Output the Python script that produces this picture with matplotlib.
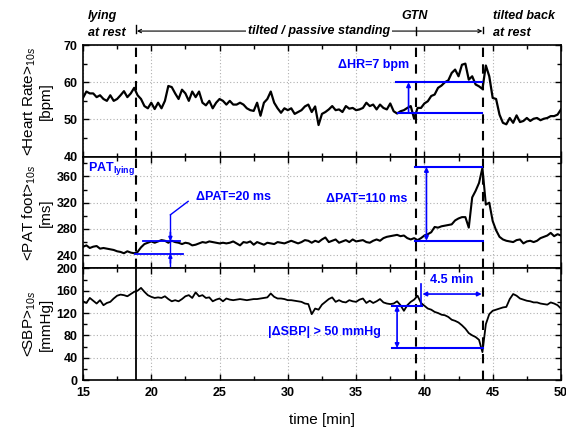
import numpy as np
import matplotlib
matplotlib.use("Agg")
import matplotlib.pyplot as plt
from matplotlib.ticker import MultipleLocator, FixedLocator

plt.rcParams['font.family'] = ['Liberation Sans', 'DejaVu Sans']
plt.rcParams['mathtext.fontset'] = 'custom'
plt.rcParams['mathtext.rm'] = 'Liberation Sans'
plt.rcParams['mathtext.bf'] = 'Liberation Sans:bold'
plt.rcParams['mathtext.it'] = 'Liberation Sans:italic'

# ---------------- data ----------------
time_min = np.arange(15.0, 50.001, 0.25)   # sampling grid [min]

heart_rate = [
    55.8, 57.5, 57.0, 57.0, 56.0, 56.5, 55.5, 55.0, 56.5, 55.0,
    55.5, 56.5, 57.6, 56.0, 57.0, 58.5, 56.5, 55.5, 53.6, 53.0,
    54.5, 52.8, 54.5, 53.0, 55.0, 59.0, 58.7, 57.0, 55.5, 58.0,
    57.0, 55.0, 57.5, 56.0, 57.5, 54.5, 53.8, 55.0, 53.0, 54.5,
    55.5, 55.0, 54.0, 55.0, 54.0, 54.0, 54.5, 54.0, 53.0, 52.5,
    52.3, 54.5, 51.0, 54.5, 55.5, 57.5, 54.5, 53.0, 51.8, 53.0,
    52.5, 53.0, 51.5, 52.0, 52.5, 53.5, 54.0, 52.0, 53.5, 48.5,
    51.5, 52.0,
    52.7, 53.6, 52.5, 52.7, 52.0, 53.6, 52.9, 53.1, 52.5, 52.7,
    53.1, 54.5, 53.6, 54.0, 52.7, 54.0, 53.1, 52.7, 54.3, 52.2,
    51.6, 52.2, 52.5, 53.1, 53.6, 50.2, 53.1, 53.1, 54.3, 54.9,
    56.3, 56.7, 58.5, 59.1, 60.0, 60.5, 62.5, 63.4, 61.6, 64.7,
    65.0, 60.7, 61.6, 59.4, 58.9, 58.2, 64.5, 61.6, 55.8, 55.5,
    51.3, 49.1, 48.7, 50.4, 49.1, 51.1, 49.3, 49.6, 50.4, 49.6,
    50.2, 50.4, 49.8, 50.2, 50.4, 50.9, 50.9, 51.3, 52.7]

pat_foot = [
    252.8, 255, 251, 253, 254, 250, 251, 250, 249, 248,
    246, 245, 243, 246, 244, 243, 245, 252, 257, 259,
    261, 259, 261, 263, 262, 259, 262, 260, 259, 257,
    259, 258, 255, 256, 258, 260, 259, 261, 260, 259,
    258, 259, 258, 259, 261, 258, 255, 260, 259, 261,
    256, 260, 258, 256, 259, 258, 257, 260, 259, 258,
    260, 262, 260, 258, 260, 263, 262, 259, 262, 260,
    264, 267,
    260, 262, 264, 259, 261, 263, 260, 264, 261, 262,
    263, 260, 259, 262, 264, 262, 266, 268, 269, 270,
    271, 269, 270, 266, 264, 266, 263, 266, 270, 272,
    275, 283, 282, 284, 285, 286, 287, 293, 296, 298,
    298, 282, 328, 338, 350, 373, 317, 320, 292, 278,
    268, 264, 262, 261, 260, 263, 264, 258, 261, 262,
    260, 262, 266, 268, 270, 274, 269, 272, 270]

sbp = [
    141, 138, 147, 142, 137, 143, 134, 138, 140, 146,
    151, 153, 152, 150, 154, 158, 160, 165, 158, 152,
    149, 147, 148, 147, 150, 145, 141, 143, 141, 145,
    150, 152, 147, 157, 150, 152, 147, 148, 141, 144,
    146, 141, 146, 144, 143, 144, 145, 144, 143, 144,
    145, 145, 146, 147, 148, 155, 149, 146, 146, 145,
    143, 143, 142, 141, 140, 137, 136, 118, 128, 126,
    135, 140,
    145, 148, 140, 143, 140, 139, 143, 141, 140, 144,
    146, 138, 142, 138, 141, 145, 139, 137, 136, 137,
    141, 134, 124, 134, 140, 144, 151, 138, 133, 128,
    126, 122, 120, 117, 116, 113, 108, 106, 103, 98,
    92, 84, 80, 77, 72, 50, 100, 118, 124, 126,
    128, 130, 131, 145, 154, 151, 146, 144, 142, 141,
    139, 139, 137, 136, 135, 139, 137, 134, 128]

t_tilt = 18.9      # tilted
t_gtn = 39.4       # GTN
t_back = 44.3      # tilted back

BLUE = '#0000ff'
GRID = '#b0b0b0'

# ---------------- figure ----------------
fig = plt.figure(figsize=(5.66, 4.28), dpi=100)
L, W = 0.1466, 0.8445
H = 0.2609
ax_hr = fig.add_axes([L, 0.1121 + 2 * H, W, H])
ax_pat = fig.add_axes([L, 0.1121 + H, W, H])
ax_sbp = fig.add_axes([L, 0.1121, W, H])

def style(ax, ylim, ymaj, ymin, ylabel, bottom_labels=False):
    ax.set_xlim(15, 50)
    ax.set_ylim(*ylim)
    ax.xaxis.set_major_locator(MultipleLocator(5))
    ax.xaxis.set_minor_locator(MultipleLocator(2.5))
    ax.yaxis.set_major_locator(FixedLocator(ymaj))
    ax.yaxis.set_minor_locator(FixedLocator(ymin))
    ax.tick_params(which='both', direction='in', top=True, right=True, width=1.0)
    ax.tick_params(which='major', length=4)
    ax.tick_params(which='minor', length=3)
    ax.tick_params(axis='x', labelbottom=bottom_labels, labelsize=9, pad=5)
    ax.tick_params(axis='y', labelsize=9, pad=4)
    for s in ax.spines.values():
        s.set_linewidth(1.2)
    ax.grid(True, which='major', linestyle=(0, (1, 2)), color=GRID, linewidth=0.8)
    ax.set_ylabel(ylabel, fontsize=11, linespacing=1.15)
    ax.yaxis.set_label_coords(-0.062, 0.5)

style(ax_hr, (40, 70), [40, 50, 60, 70], [45, 55, 65],
      "<Heart Rate>$_{10s}$\n[bpm]")
style(ax_pat, (220, 390), [240, 280, 320, 360], [260, 300, 340, 380],
      "<PAT foot>$_{10s}$\n[ms]")
style(ax_sbp, (0, 200), [0, 40, 80, 120, 160, 200], [20, 60, 100, 140, 180],
      "<SBP>$_{10s}$\n[mmHg]", bottom_labels=True)
for ax in (ax_hr, ax_pat, ax_sbp):
    for lab in ax.get_xticklabels() + ax.get_yticklabels():
        lab.set_fontweight('bold')
ax_sbp.set_xlabel("time [min]", fontsize=11, labelpad=10)

# traces
ax_hr.plot(time_min, heart_rate, color='black', lw=1.6, zorder=3)
ax_pat.plot(time_min, pat_foot, color='black', lw=1.5, zorder=3)
ax_sbp.plot(time_min, sbp, color='black', lw=1.3, zorder=3)

# event lines
dash = (0, (4.5, 3.5))
for ax in (ax_hr, ax_pat):
    for tt in (t_tilt, t_gtn, t_back):
        ax.axvline(tt, color='black', lw=1.5, linestyle=dash, zorder=2)
ax_sbp.axvline(t_tilt, color='black', lw=1.3, zorder=2)
for tt in (t_gtn, t_back):
    ax_sbp.axvline(tt, color='black', lw=1.5, linestyle=dash, zorder=2)

# ---------------- top annotations ----------------
trx = ax_hr.get_xaxis_transform()
ita = dict(fontsize=9, fontweight='bold', fontstyle='italic', transform=trx,
           clip_on=False)
ax_hr.text(15.37, 1.26, "lying", ha='left', va='center', **ita)
ax_hr.text(15.37, 1.11, "at rest", ha='left', va='center', **ita)
ax_hr.text(39.3, 1.26, "GTN", ha='center', va='center', **ita)
ax_hr.text(45.0, 1.26, "tilted back", ha='left', va='center', **ita)
ax_hr.text(45.0, 1.11, "at rest", ha='left', va='center', **ita)

yarr = 1.125
ax_hr.annotate('', xy=(t_tilt + 0.05, yarr), xytext=(t_back - 0.05, yarr),
               xycoords=trx, textcoords=trx, annotation_clip=False,
               arrowprops=dict(arrowstyle='<->', lw=0.8, color='black',
                               mutation_scale=6, shrinkA=0, shrinkB=0))
ax_hr.text(32.3, yarr, "tilted / passive standing", ha='center', va='center',
           bbox=dict(facecolor='white', edgecolor='none', pad=1.5), **ita)
for tt, y0, y1 in ((t_tilt, 1.105, 1.18), (t_gtn, 1.09, 1.16), (t_back, 1.105, 1.16)):
    ax_hr.plot([tt, tt], [y0, y1], color='black', lw=1.0, transform=trx,
               clip_on=False)

# ---------------- blue annotations ----------------
def arrow(ax, p0, p1, style='<|-|>', ms=7):
    ax.annotate('', xy=p1, xytext=p0, annotation_clip=False,
                arrowprops=dict(arrowstyle=style, color=BLUE, lw=1.2,
                                mutation_scale=ms, shrinkA=0, shrinkB=0))

btxt = dict(color=BLUE, fontsize=9, fontweight='bold', ha='center', va='center')

# HR
ax_hr.plot([37.9, 44.25], [60.0, 60.0], color=BLUE, lw=1.5, zorder=4)
ax_hr.plot([38.1, 44.25], [51.8, 51.8], color=BLUE, lw=1.5, zorder=4)
arrow(ax_hr, (38.84, 51.8), (38.84, 60.0), '-|>', 6)
ax_hr.text(36.25, 64.7, "ΔHR=7 bpm", **btxt)

# PAT
ax_pat.text(15.35, 372, r"PAT$_{\mathbf{lying}}$", color=BLUE, fontsize=9,
            fontweight='bold', ha='left', va='center')
ax_pat.plot([18.8, 22.35], [242.5, 242.5], color=BLUE, lw=1.3, zorder=4)
ax_pat.plot([19.4, 22.1], [261.5, 261.5], color=BLUE, lw=1.3, zorder=4)
ax_pat.plot([21.4, 21.4], [301.5, 220], color=BLUE, lw=1.0, zorder=4,
            clip_on=False)
arrow(ax_pat, (21.4, 275), (21.4, 261.5), '-|>', 5)
arrow(ax_pat, (21.4, 228), (21.4, 242.5), '-|>', 5)
ax_pat.plot([21.4, 22.7], [301.5, 322], color=BLUE, lw=1.0, zorder=4)
ax_pat.text(26.0, 328, "ΔPAT=20 ms", **btxt)

ax_pat.plot([39.3, 44.25], [374.4, 374.4], color=BLUE, lw=1.5, zorder=4)
ax_pat.plot([39.3, 44.3], [262.0, 262.0], color=BLUE, lw=1.5, zorder=4)
arrow(ax_pat, (40.15, 262.0), (40.15, 374.4), '<|-|>', 6)
ax_pat.text(35.75, 325.6, "ΔPAT=110 ms", **btxt)

# SBP
ax_sbp.plot([37.6, 39.8], [133, 133], color=BLUE, lw=1.5, zorder=4)
ax_sbp.plot([39.75, 39.75], [133, 172], color=BLUE, lw=1.2, zorder=4)
arrow(ax_sbp, (39.85, 154), (44.2, 154), '<|-|>', 6)
ax_sbp.text(42.0, 178.5, "4.5 min", **btxt)
ax_sbp.plot([37.6, 44.3], [57.3, 57.3], color=BLUE, lw=1.5, zorder=4)
arrow(ax_sbp, (38.0, 133), (38.0, 57.3), '<|-|>', 6)
ax_sbp.text(32.7, 86, "|ΔSBP| > 50 mmHg", **btxt)

fig.savefig("out.png", dpi=100)
